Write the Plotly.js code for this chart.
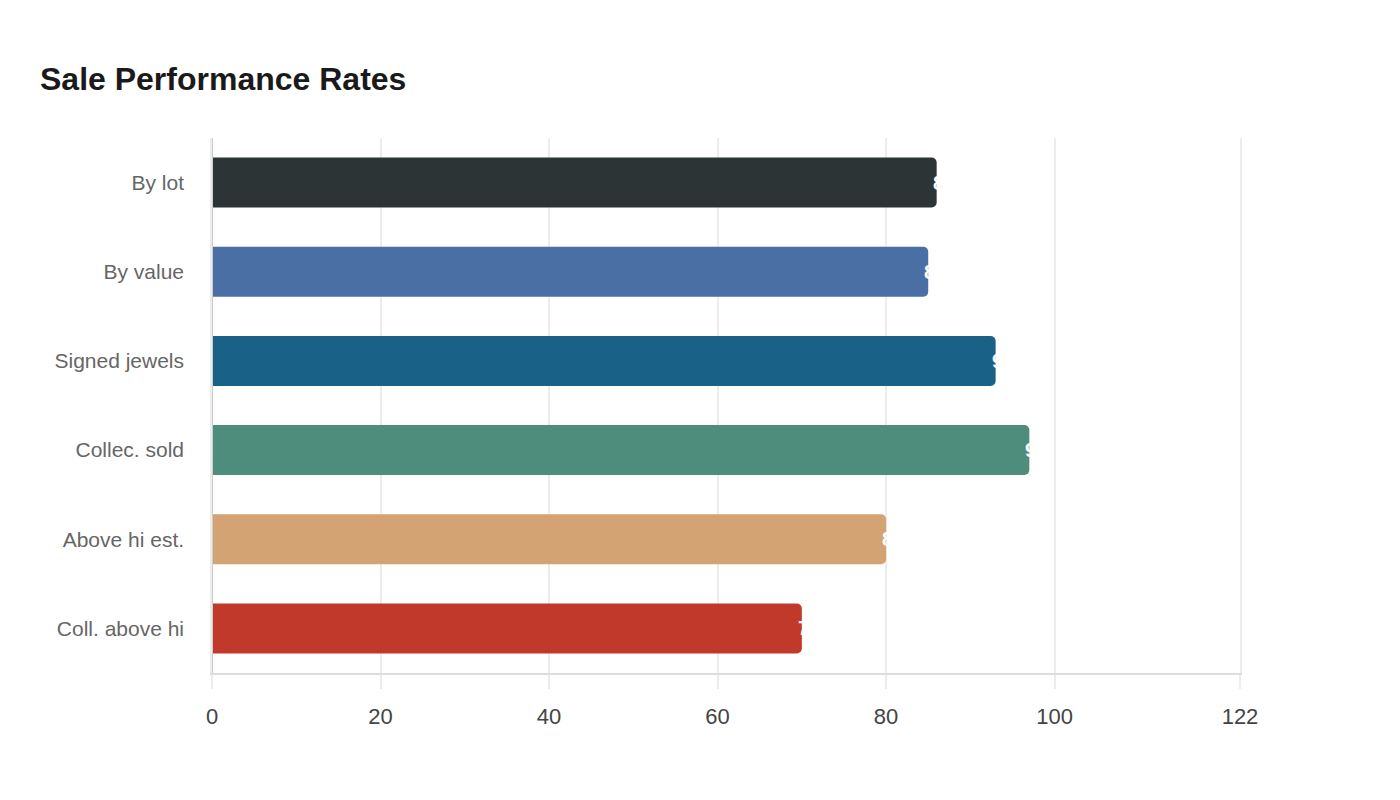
<!DOCTYPE html>
<html>
<head>
<meta charset="utf-8">
<script src="https://cdn.plot.ly/plotly-3.0.1.min.js"></script>
<style>
  html, body { margin: 0; padding: 0; background: #fff; }
  #chart { width: 1400px; height: 800px; }
</style>
</head>
<body>
<div id="chart"></div>
<script>
// Sale performance rates
const categories = ['By lot', 'By value', 'Signed jewels', 'Collec. sold', 'Above hi est.', 'Coll. above hi'];
const rates = [86, 85, 93, 97, 80, 70];
const barColors = ['#2d3436', '#4a6fa5', '#1a6187', '#4e8d7c', '#d4a373', '#c0392b'];
const tickValues = [0, 20, 40, 60, 80, 100, 122];

function drawChart() {
    const trace = {
        type: 'bar',
        orientation: 'h',
        x: rates,
        y: categories,
        marker: {color: barColors, cornerradius: 5},
        hoverinfo: 'x+y'
    };

    // white value labels sitting at the bar ends
    const labels = rates.map((v, i) => ({
        x: v,
        y: categories[i],
        xref: 'x',
        yref: 'y',
        text: String(v),
        showarrow: false,
        xanchor: 'left',
        xshift: -6,
        font: {family: 'Liberation Sans, Arial, sans-serif', size: 20, color: '#ffffff', weight: 'bold'}
    }));

    const layout = {
        width: 1400,
        height: 800,
        paper_bgcolor: '#ffffff',
        plot_bgcolor: '#ffffff',
        margin: {l: 212, r: 160, t: 138, b: 127},
        title: {
            text: '<b>Sale Performance Rates</b>',
            font: {family: 'Liberation Sans, Arial, sans-serif', size: 32, color: '#1a1a1a'},
            xref: 'container', yref: 'container',
            x: 40 / 1400, xanchor: 'left',
            y: 1 - 79 / 800, yanchor: 'middle'
        },
        bargap: 0.44,
        showlegend: false,
        xaxis: {
            range: [0, 122],
            tickmode: 'array',
            tickvals: tickValues,
            ticktext: tickValues.map(String),
            showgrid: true,
            gridcolor: '#ececec',
            gridwidth: 1.5,
            // darker line at 0 for the left edge
            zeroline: true,
            zerolinecolor: '#cccccc',
            zerolinewidth: 2,
            zerolinelayer: 'above traces',
            showline: true,
            linecolor: '#dddddd',
            linewidth: 2,
            ticks: 'outside',
            ticklen: 14,
            tickcolor: '#ececec',
            tickwidth: 1.5,
            ticklabelstandoff: 9,
            tickfont: {family: 'Liberation Sans, Arial, sans-serif', size: 22, color: '#444444'}
        },
        yaxis: {
            autorange: 'reversed',
            showgrid: false,
            zeroline: false,
            // mirrored frame gives the faint line at 122
            showline: true,
            mirror: true,
            linecolor: '#ececec',
            linewidth: 1.5,
            ticks: '',
            ticklabelstandoff: 22,
            tickfont: {family: 'Liberation Sans, Arial, sans-serif', size: 21, color: '#666666'}
        },
        annotations: labels
    };

    Plotly.newPlot('chart', [trace], layout, {displayModeBar: false, responsive: false});
}

drawChart();
</script>
</body>
</html>
